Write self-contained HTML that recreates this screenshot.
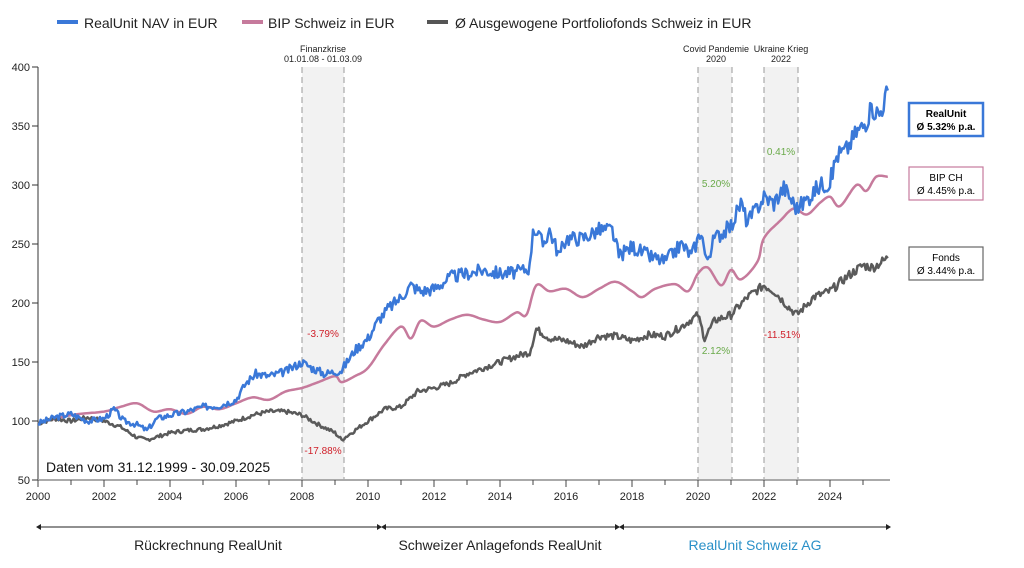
<!DOCTYPE html>
<html><head><meta charset="utf-8"><style>
body{margin:0;background:#fff;}
svg text{font-family:"Liberation Sans",sans-serif;}
</style></head><body>
<svg id="s" width="1024" height="563" xmlns="http://www.w3.org/2000/svg">
<rect width="1024" height="563" fill="#fff"/>
<rect x="57" y="20" width="21" height="4" fill="#3a78d8"/><text x="84" y="28" font-size="14" fill="#222">RealUnit NAV in EUR</text>
<rect x="242" y="20" width="21" height="4" fill="#c67a9c"/><text x="268" y="28" font-size="14" fill="#222">BIP Schweiz in EUR</text>
<rect x="427" y="20" width="21" height="4" fill="#555"/><text x="455" y="28" font-size="14" fill="#222">Ø Ausgewogene Portfoliofonds Schweiz in EUR</text>
<g fill="#f2f2f2"><rect x="302" y="67" width="42" height="413"/><rect x="698" y="67" width="34" height="413"/><rect x="764" y="67" width="34" height="413"/></g>
<g stroke="#999" stroke-dasharray="6,4" stroke-width="1"><line x1="302" y1="67" x2="302" y2="480"/><line x1="344" y1="67" x2="344" y2="480"/><line x1="698" y1="67" x2="698" y2="480"/><line x1="732" y1="67" x2="732" y2="480"/><line x1="764" y1="67" x2="764" y2="480"/><line x1="798" y1="67" x2="798" y2="480"/></g>
<g font-size="9" fill="#222" text-anchor="middle"><text x="323" y="52">Finanzkrise</text><text x="323" y="62">01.01.08 - 01.03.09</text><text x="716" y="52">Covid Pandemie</text><text x="716" y="62">2020</text><text x="781" y="52">Ukraine Krieg</text><text x="781" y="62">2022</text></g>
<g font-size="10" text-anchor="middle"><text x="323" y="337" fill="#d0202a">-3.79%</text><text x="323" y="454" fill="#d0202a">-17.88%</text><text x="716" y="187" fill="#6aaa4a">5.20%</text><text x="716" y="354" fill="#6aaa4a">2.12%</text><text x="781" y="155" fill="#6aaa4a">0.41%</text><text x="782" y="338" fill="#d0202a">-11.51%</text></g>
<line x1="38" y1="67" x2="38" y2="480" stroke="#333" stroke-width="1"/>
<line x1="38" y1="480" x2="890" y2="480" stroke="#aaa" stroke-width="2"/>
<g id="yt" font-size="11" fill="#222" text-anchor="end"></g>
<g id="xt" font-size="11" fill="#222" text-anchor="middle"></g>
<text x="46" y="472" font-size="14" fill="#111">Daten vom 31.12.1999 - 30.09.2025</text>
<g id="series"></g>
<rect x="909" y="103" width="74" height="33" fill="#fff" stroke="#3a78d8" stroke-width="2.5"/>
<text x="946" y="117" font-size="10" font-weight="bold" text-anchor="middle">RealUnit</text><text x="946" y="130" font-size="10" font-weight="bold" text-anchor="middle">Ø 5.32% p.a.</text>
<rect x="909" y="167" width="74" height="33" fill="#fff" stroke="#c67a9c" stroke-width="1.2"/>
<text x="946" y="181" font-size="10" text-anchor="middle">BIP CH</text><text x="946" y="194" font-size="10" text-anchor="middle">Ø 4.45% p.a.</text>
<rect x="909" y="247" width="74" height="33" fill="#fff" stroke="#666" stroke-width="1.2"/>
<text x="946" y="261" font-size="10" text-anchor="middle">Fonds</text><text x="946" y="274" font-size="10" text-anchor="middle">Ø 3.44% p.a.</text>
<g stroke="#222" stroke-width="1"><line x1="38" y1="527" x2="380" y2="527"/><line x1="383" y1="527" x2="618" y2="527"/><line x1="621" y1="527" x2="889" y2="527"/></g>
<g fill="#222"><path d="M36,527 l5,-3 v6z"/><path d="M382,527 l-5,-3 v6z"/><path d="M381,527 l5,-3 v6z"/><path d="M620,527 l-5,-3 v6z"/><path d="M619,527 l5,-3 v6z"/><path d="M891,527 l-5,-3 v6z"/></g>
<g font-size="14" text-anchor="middle"><text x="208" y="550" fill="#222">Rückrechnung RealUnit</text><text x="500" y="550" fill="#222">Schweizer Anlagefonds RealUnit</text><text x="755" y="550" fill="#2a90c8">RealUnit Schweiz AG</text></g>
</svg>
<script>
const X=y=>38+(y-2000)*33, Y=v=>480-(v-50)*413/350, NS="http://www.w3.org/2000/svg";
function el(p,t,a,txt){const e=document.createElementNS(NS,t);for(const k in a)e.setAttribute(k,a[k]);if(txt!=null)e.textContent=txt;p.appendChild(e);return e;}
const yt=document.getElementById('yt');
for(let v=50;v<=400;v+=50){el(yt,'text',{x:30,y:Y(v)+4},v);el(yt,'line',{x1:32,y1:Y(v),x2:38,y2:Y(v),stroke:'#333'});}
const xt=document.getElementById('xt');
for(let y=2000;y<=2025;y++){el(xt,'line',{x1:X(y),y1:480,x2:X(y),y2:y%2?485:487,stroke:'#444'});if(y%2==0)el(xt,'text',{x:X(y),y:500},y);}
function rough(pts,amp,seed){let r=seed,out=[];for(let i=0;i<pts.length-1;i++){const[a,b]=pts[i],[c,d]=pts[i+1];const n=Math.max(2,Math.round((c-a)*24));for(let j=0;j<n;j++){const t=j/n;r=(r*9301+49297)%233280;const noise=amp?(r/233280-0.5)*amp*(b+d)/200:0;out.push([a+(c-a)*t,b+(d-b)*t+noise]);}}out.push(pts[pts.length-1]);return out;}
function spline(p){let out=[];for(let i=0;i<p.length-1;i++){const p0=p[Math.max(0,i-1)],p1=p[i],p2=p[i+1],p3=p[Math.min(p.length-1,i+2)];for(let j=0;j<10;j++){const t=j/10,t2=t*t,t3=t2*t;const f=k=>0.5*((2*p1[k])+(-p0[k]+p2[k])*t+(2*p0[k]-5*p1[k]+4*p2[k]-p3[k])*t2+(-p0[k]+3*p1[k]-3*p2[k]+p3[k])*t3);out.push([f(0),f(1)]);}}out.push(p[p.length-1]);return out;}
const ru=[[2000,98],[2000.5,103],[2001,106],[2001.5,100],[2002,102],[2002.3,110],[2002.6,100],[2003,97],[2003.3,92],[2003.6,102],[2004,105],[2004.5,108],[2005,112],[2005.5,113],[2006,118],[2006.3,132],[2006.6,140],[2007,138],[2007.5,142],[2008,150],[2008.3,145],[2008.7,140],[2009.2,143],[2009.6,160],[2010,170],[2010.3,185],[2010.6,195],[2011,205],[2011.3,215],[2011.6,210],[2012,212],[2012.5,222],[2013,225],[2013.5,228],[2014,225],[2014.5,226],[2014.9,230],[2015,265],[2015.3,250],[2015.5,262],[2015.8,240],[2016,255],[2016.5,255],[2017,262],[2017.4,262],[2017.6,240],[2018,248],[2018.5,240],[2019,235],[2019.5,250],[2019.8,240],[2020.1,262],[2020.25,235],[2020.5,255],[2021,265],[2021.3,285],[2021.5,268],[2022,290],[2022.3,285],[2022.6,298],[2023,280],[2023.3,288],[2023.7,300],[2024,302],[2024.2,325],[2024.5,330],[2024.8,345],[2025,350],[2025.3,365],[2025.5,360],[2025.75,380]];
const bip=[[2000,98],[2001,105],[2002,108],[2002.5,112],[2003,115],[2003.5,108],[2004,110],[2004.5,106],[2005,112],[2005.5,110],[2006,115],[2006.5,120],[2007,118],[2007.5,125],[2008,128],[2008.5,133],[2009,138],[2009.2,133],[2009.6,138],[2010,145],[2010.5,165],[2011,180],[2011.3,170],[2011.6,185],[2012,180],[2012.5,186],[2013,190],[2013.5,186],[2014,184],[2014.5,192],[2014.8,190],[2015.1,215],[2015.5,210],[2016,212],[2016.5,205],[2017,212],[2017.5,218],[2018,210],[2018.3,205],[2018.7,212],[2019.3,216],[2019.7,210],[2020,225],[2020.3,230],[2020.7,215],[2021,228],[2021.3,220],[2021.8,235],[2022,255],[2022.5,270],[2022.9,280],[2023.3,275],[2023.7,285],[2024,290],[2024.3,282],[2024.8,300],[2025.1,295],[2025.4,307],[2025.75,307]];
const fo=[[2000,98],[2000.5,102],[2001,100],[2001.5,103],[2002,100],[2002.5,95],[2003,86],[2003.3,84],[2004,90],[2004.5,92],[2005,93],[2005.5,96],[2006,100],[2006.5,105],[2007,108],[2007.5,108],[2008,105],[2008.5,97],[2009,90],[2009.2,84],[2009.5,90],[2010,100],[2010.5,110],[2011,112],[2011.5,125],[2012,128],[2012.5,132],[2013,140],[2013.5,145],[2014,150],[2014.5,155],[2014.9,158],[2015.1,178],[2015.5,170],[2016,168],[2016.5,163],[2017,172],[2017.5,172],[2018,168],[2018.5,173],[2019,172],[2019.5,180],[2020,190],[2020.2,170],[2020.5,185],[2021,190],[2021.5,205],[2022,215],[2022.3,210],[2022.8,195],[2023,190],[2023.5,205],[2024,210],[2024.5,222],[2025,232],[2025.3,230],[2025.75,238]];
const g=document.getElementById('series');
function draw(p,c){el(g,'polyline',{points:p.map(q=>X(q[0]).toFixed(1)+','+Y(q[1]).toFixed(1)).join(' '),fill:'none',stroke:c,'stroke-width':2.5,'stroke-linejoin':'round'});}
draw(spline(bip),'#c67a9c');
draw(rough(fo,3.5,7),'#5a5a5a');
draw(rough(ru,5,3),'#3a78d8');
</script>
</body></html>
